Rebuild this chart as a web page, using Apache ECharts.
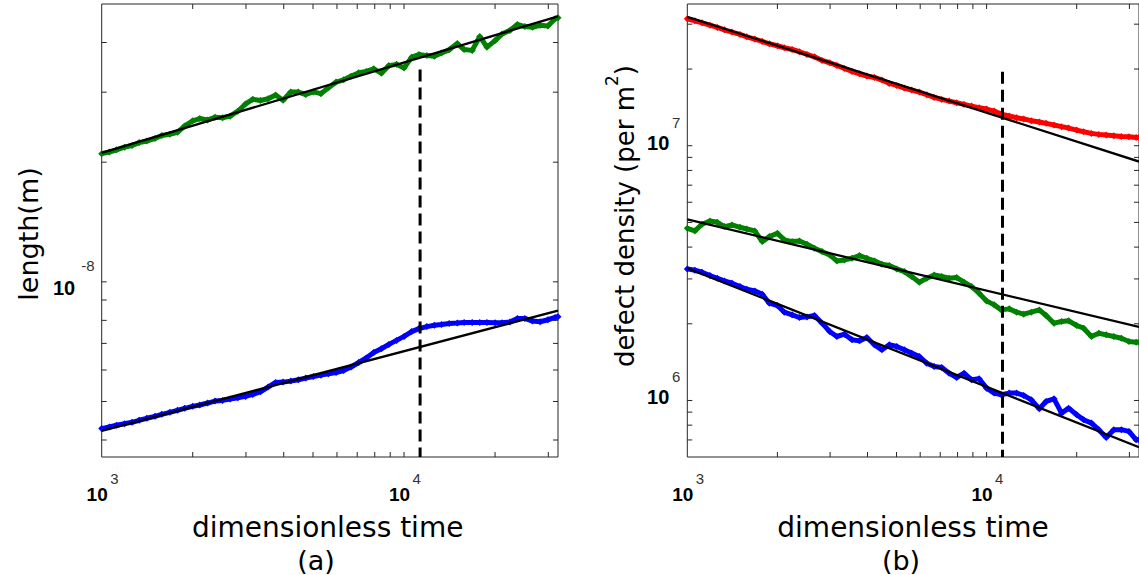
<!DOCTYPE html>
<html><head><meta charset="utf-8">
<script src="https://cdn.jsdelivr.net/npm/echarts@6/dist/echarts.min.js"></script>
<style>html,body{margin:0;padding:0;background:#fff}#c{width:1139px;height:575px}</style>
</head><body><div id="c"></div>
<script>
// ---------- data ----------
const times = [1000,1060,1120,1190,1260,1330,1410,1500,1580,1680,1780,1880,2000,2110,2240,2370,2510,2660,2820,2990,3160,3350,3550,3760,3980,4220,4470,4730,5010,5310,5620,5960,6310,6680,7080,7500,7940,8410,8910,9440,10000,10600,11200,11900,12600,13300,14100,15000,15800,16800,17800,18800,20000,21100,22400,23700,25100,26600,28200,29900,31600,32300];

const lengthGreen = [2.101e-8,2.121e-8,2.149e-8,2.182e-8,2.202e-8,2.240e-8,2.260e-8,2.295e-8,2.334e-8,2.351e-8,
 2.378e-8,2.465e-8,2.542e-8,2.575e-8,2.554e-8,2.593e-8,2.587e-8,2.611e-8,2.687e-8,2.802e-8,
 2.878e-8,2.860e-8,2.887e-8,2.953e-8,2.862e-8,3.003e-8,3.001e-8,2.960e-8,3.005e-8,2.975e-8,
 3.079e-8,3.180e-8,3.222e-8,3.290e-8,3.359e-8,3.384e-8,3.435e-8,3.349e-8,3.499e-8,3.525e-8,
 3.450e-8,3.675e-8,3.731e-8,3.708e-8,3.692e-8,3.763e-8,3.834e-8,3.976e-8,3.839e-8,3.822e-8,
 4.143e-8,3.894e-8,4.045e-8,4.203e-8,4.291e-8,4.441e-8,4.388e-8,4.370e-8,4.419e-8,4.400e-8,
 4.589e-8,4.620e-8];

const lengthBlue = [4.273e-9,4.314e-9,4.356e-9,4.398e-9,4.432e-9,4.484e-9,4.536e-9,4.588e-9,4.642e-9,4.695e-9,
 4.750e-9,4.805e-9,4.861e-9,4.898e-9,4.955e-9,5.013e-9,5.032e-9,5.071e-9,5.110e-9,5.150e-9,
 5.209e-9,5.290e-9,5.435e-9,5.583e-9,5.594e-9,5.626e-9,5.670e-9,5.725e-9,5.780e-9,5.824e-9,
 5.869e-9,5.915e-9,5.983e-9,6.105e-9,6.267e-9,6.432e-9,6.640e-9,6.788e-9,6.960e-9,7.123e-9,
 7.290e-9,7.496e-9,7.627e-9,7.716e-9,7.776e-9,7.814e-9,7.859e-9,7.875e-9,7.905e-9,7.905e-9,
 7.906e-9,7.906e-9,7.890e-9,7.890e-9,7.920e-9,8.090e-9,8.090e-9,7.966e-9,7.935e-9,8.028e-9,
 8.137e-9,8.169e-9];

const densityRed = [3.149e7,3.093e7,3.037e7,2.974e7,2.912e7,2.851e7,2.792e7,2.734e7,2.677e7,2.621e7,
 2.566e7,2.513e7,2.468e7,2.424e7,2.387e7,2.338e7,2.282e7,2.234e7,2.162e7,2.117e7,
 2.066e7,2.011e7,1.957e7,1.916e7,1.876e7,1.854e7,1.810e7,1.756e7,1.725e7,1.684e7,
 1.654e7,1.624e7,1.585e7,1.548e7,1.520e7,1.497e7,1.475e7,1.453e7,1.431e7,1.410e7,
 1.393e7,1.368e7,1.331e7,1.308e7,1.288e7,1.273e7,1.254e7,1.239e7,1.224e7,1.206e7,
 1.188e7,1.173e7,1.152e7,1.135e7,1.118e7,1.108e7,1.101e7,1.095e7,1.088e7,1.085e7,
 1.078e7,1.078e7];

const densityGreen = [4.742e6,4.629e6,4.916e6,5.067e6,5.006e6,4.814e6,4.887e6,4.785e6,4.713e6,4.629e6,
 4.204e6,4.398e6,4.533e6,4.268e6,4.204e6,4.229e6,4.104e6,3.958e6,3.841e6,3.727e6,
 3.531e6,3.563e6,3.617e6,3.705e6,3.617e6,3.531e6,3.426e6,3.385e6,3.285e6,3.206e6,
 3.065e6,2.912e6,3.019e6,3.111e6,3.065e6,3.019e6,3.037e6,2.912e6,2.800e6,2.637e6,
 2.460e6,2.373e6,2.268e6,2.289e6,2.221e6,2.181e6,2.221e6,2.268e6,2.155e6,2.011e6,
 2.042e6,2.054e6,1.969e6,1.922e6,1.783e6,1.837e6,1.810e6,1.783e6,1.756e6,1.704e6,
 1.694e6,1.694e6];

const densityBlue = [3.285e6,3.245e6,3.187e6,3.093e6,3.019e6,2.947e6,2.886e6,2.800e6,2.734e6,2.693e6,
 2.613e6,2.409e6,2.359e6,2.221e6,2.168e6,2.117e6,2.129e6,2.155e6,2.011e6,1.865e6,
 1.783e6,1.821e6,1.730e6,1.714e6,1.767e6,1.654e6,1.581e6,1.654e6,1.629e6,1.581e6,
 1.534e6,1.488e6,1.401e6,1.360e6,1.348e6,1.280e6,1.231e6,1.280e6,1.206e6,1.217e6,
 1.118e6,1.069e6,1.053e6,1.069e6,1.069e6,1.047e6,1.006e6,0.928e6,0.991e6,1.015e6,
 0.892e6,0.933e6,0.879e6,0.840e6,0.815e6,0.768e6,0.716e6,0.768e6,0.768e6,0.756e6,
 0.701e6,0.701e6];

// fitted power-law lines (end points)
const fitTimes = [1000, 32300];
const fitLengthGreen = [2.110e-8, 4.656e-8];
const fitLengthBlue = [4.216e-9, 8.464e-9];
const fitDensityRed = [3.206e7, 8.665e6];
const fitDensityGreen = [5.143e6, 1.944e6];
const fitDensityBlue = [3.304e6, 6.557e5];

// vertical dashed marker
const markTime = 11300;
const markLength = [3.42e-8, 3.625e-9];
const markDensity = [1.95e7, 6.0e5];

// axis ranges, ticks and tick labels
const timeRange = [1000, 32300];
const lengthRange = [3.625e-9, 5.0e-8];
const densityRange = [6.0e5, 3.6e7];
const timeTicks = [2000,3000,4000,5000,6000,7000,8000,9000,10000,20000,30000];
const lengthTicks = [4e-9,5e-9,6e-9,7e-9,8e-9,9e-9,1e-8,2e-8,3e-8,4e-8];
const densityTicks = [7e5,8e5,9e5,1e6,2e6,3e6,4e6,5e6,6e6,7e6,8e6,9e6,1e7,2e7,3e7];
const timeLabelValues = [1000, 10000];
const timeLabelExps = ['3', '4'];
const lengthLabelValues = [1e-8];
const lengthLabelExps = ['-8'];
const densityLabelValues = [1e6, 1e7];
const densityLabelExps = ['6', '7'];

// ---------- chart ----------
const GREEN = '#008000', BLUE = '#0000ff', RED = '#ff0000', FRAME = '#262626';

function logAxis(gridIndex, range) {
  return {type: 'log', logBase: 10, gridIndex, min: range[0], max: range[1],
    axisLine: {show: false}, axisTick: {show: false}, minorTick: {show: false},
    splitLine: {show: false}, minorSplitLine: {show: false}, axisLabel: {show: false}};
}
const pairs = (xs, ys) => xs.map((x, i) => [x, ys[i]]);

function dataSeries(g, ys, color) {
  return {type: 'line', xAxisIndex: g, yAxisIndex: g, data: pairs(times, ys),
    symbol: 'diamond', symbolSize: 7, showSymbol: true, itemStyle: {color},
    lineStyle: {color, width: 5}, z: 2, silent: true};
}
function fitSeries(g, ys) {
  return {type: 'line', xAxisIndex: g, yAxisIndex: g, data: pairs(fitTimes, ys),
    symbol: 'none', lineStyle: {color: '#000', width: 2.3}, z: 3, silent: true};
}
function markSeries(g, ys) {
  return {type: 'line', xAxisIndex: g, yAxisIndex: g, data: [[markTime, ys[0]], [markTime, ys[1]]],
    symbol: 'none', lineStyle: {color: '#000', width: 3, type: [12, 6]}, z: 4, silent: true};
}
const TL = 5;
function xTickSeries(g, yRef) {
  return {type: 'custom', xAxisIndex: g, yAxisIndex: g, clip: false, silent: true, z: 5,
    data: timeTicks.map(v => [v, yRef]),
    renderItem: (params, api) => {
      const cs = params.coordSys;
      const x = api.coord([api.value(0), api.value(1)])[0];
      const st = {stroke: FRAME, lineWidth: 1};
      return {type: 'group', children: [
        {type: 'line', shape: {x1: x, y1: cs.y + cs.height, x2: x, y2: cs.y + cs.height - TL}, style: st},
        {type: 'line', shape: {x1: x, y1: cs.y, x2: x, y2: cs.y + TL}, style: st}
      ]};
    }};
}
function yTickSeries(g, ticks, xRef) {
  return {type: 'custom', xAxisIndex: g, yAxisIndex: g, clip: false, silent: true, z: 5,
    data: ticks.map(v => [xRef, v]),
    renderItem: (params, api) => {
      const cs = params.coordSys;
      const y = api.coord([api.value(0), api.value(1)])[1];
      const st = {stroke: FRAME, lineWidth: 1};
      return {type: 'group', children: [
        {type: 'line', shape: {x1: cs.x, y1: y, x2: cs.x + TL, y2: y}, style: st},
        {type: 'line', shape: {x1: cs.x + cs.width, y1: y, x2: cs.x + cs.width - TL, y2: y}, style: st}
      ]};
    }};
}
function txt(x, y, text, size, rot, extra) {
  return Object.assign({type: 'text', x, y, rotation: rot || 0, silent: true, z: 10,
    style: Object.assign({text, fontFamily: 'DejaVu Sans', fontSize: size, fill: '#000',
      textAlign: 'center', textVerticalAlign: 'middle', align: 'center', verticalAlign: 'middle'}, extra || {})});
}
function lab(x, y, text, size, isBase, align) {
  return {type: 'text', x, y, silent: true, z: 10,
    style: {text, fontFamily: 'Liberation Sans', fontWeight: isBase ? 'bold' : 'normal',
      fontSize: size, fill: isBase ? '#000' : '#333',
      textAlign: align, textVerticalAlign: 'middle', align, verticalAlign: 'middle'}};
}

const chart = echarts.init(document.getElementById('c'), null, {renderer: 'svg'});
chart.setOption({
  animation: false,
  backgroundColor: '#fff',
  grid: [
    {left: 101.7, top: 4, width: 456.3, height: 453, show: true, borderColor: FRAME, borderWidth: 1, backgroundColor: 'transparent'},
    {left: 687.3, top: 4, width: 456.3, height: 453, show: true, borderColor: FRAME, borderWidth: 1, backgroundColor: 'transparent'}
  ],
  xAxis: [logAxis(0, timeRange), logAxis(1, timeRange)],
  yAxis: [logAxis(0, lengthRange), logAxis(1, densityRange)],
  series: [
    dataSeries(0, lengthGreen, GREEN),
    dataSeries(0, lengthBlue, BLUE),
    fitSeries(0, fitLengthGreen),
    fitSeries(0, fitLengthBlue),
    markSeries(0, markLength),
    dataSeries(1, densityRed, RED),
    dataSeries(1, densityGreen, GREEN),
    dataSeries(1, densityBlue, BLUE),
    fitSeries(1, fitDensityRed),
    fitSeries(1, fitDensityGreen),
    fitSeries(1, fitDensityBlue),
    markSeries(1, markDensity),
    xTickSeries(0, lengthRange[0]),
    yTickSeries(0, lengthTicks, timeRange[0]),
    xTickSeries(1, densityRange[0]),
    yTickSeries(1, densityTicks, timeRange[0])
  ]
});

// tick labels (10 with raised exponent), placed through the axes' own scales
const labels = [];
const yRanges = [lengthRange, densityRange];
[0, 1].forEach(g => {
  timeLabelValues.forEach((v, i) => {
    const p = chart.convertToPixel({gridIndex: g}, [v, yRanges[g][0]]);
    labels.push(lab(p[0] + 6, p[1] + 37, '10', 19, true, 'right'));
    labels.push(lab(p[0] + 8.5, p[1] + 21, timeLabelExps[i], 15, false, 'left'));
  });
});
function yLabels(g, values, exps, dyBase, dyExp) {
  values.forEach((v, i) => {
    const p = chart.convertToPixel({gridIndex: g}, [timeRange[0], v]);
    const e = exps[i];
    const expRight = p[0] - 7;
    const baseRight = expRight - 8.5 * e.length - 2.5;
    labels.push(lab(baseRight, p[1] + dyBase, '10', 20, true, 'right'));
    labels.push(lab(expRight, p[1] + dyExp, e, 15, false, 'right'));
  });
}
yLabels(0, lengthLabelValues, lengthLabelExps, 6.5, -16.5);
yLabels(1, densityLabelValues, densityLabelExps, -3, -23.5);

chart.setOption({
  graphic: [
    txt(327.7, 527, 'dimensionless time', 28),
    txt(913, 527, 'dimensionless time', 28),
    txt(316, 560, '(a)', 27),
    txt(901, 560, '(b)', 27),
    txt(28, 234, 'length(m)', 27, Math.PI / 2),
    txt(625, 216, 'defect density (per m{s|2})', 26, Math.PI / 2,
      {lineHeight: 44, rich: {s: {fontFamily: 'DejaVu Sans', fontSize: 17, lineHeight: 17, verticalAlign: 'top', fill: '#000', color: '#000'}}})
  ].concat(labels)
});
</script></body></html>
